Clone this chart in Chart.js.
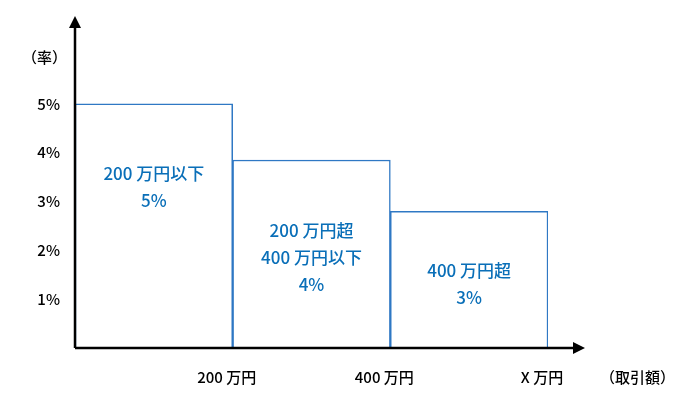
<!DOCTYPE html>
<html><head><meta charset="utf-8">
<script src="https://cdn.jsdelivr.net/npm/chart.js@4"></script>
<style>body{margin:0;background:#fff}#w{width:700px;height:409px}</style>
</head><body><div id="w"><canvas id="c"></canvas></div>
<script>
const categories = ['0-200', '200-400', '400-X'];
const rates = [5, 3.85, 2.8];
const labelCenters = [3.3, 1.85, 1.3];
const boundaryLabels = ['200 万円', '400 万円', 'X 万円'];
const innerLabels = [['200 万円以下', '5%'], ['200 万円超', '400 万円以下', '4%'], ['400 万円超', '3%']];
const yTicks = [1, 2, 3, 4, 5];
const FONT = '"Noto Sans CJK JP", "Noto Sans", sans-serif';

const deco = {
  id: 'deco',
  afterDatasetsDraw(chart) {
    const {ctx, chartArea: a, scales: {x, y}} = chart;
    ctx.save();
    ctx.strokeStyle = '#000'; ctx.fillStyle = '#000'; ctx.lineWidth = 2.5;
    const y0 = y.getPixelForValue(0);
    ctx.beginPath(); ctx.moveTo(a.left, y0); ctx.lineTo(a.left, a.top + 4); ctx.stroke();
    ctx.beginPath(); ctx.moveTo(a.left - 6, a.top + 12); ctx.lineTo(a.left, a.top); ctx.lineTo(a.left + 6, a.top + 12); ctx.closePath(); ctx.fill();
    const xe = 585;
    ctx.beginPath(); ctx.moveTo(a.left, y0); ctx.lineTo(xe - 4, y0); ctx.stroke();
    ctx.beginPath(); ctx.moveTo(xe - 12, y0 - 6); ctx.lineTo(xe, y0); ctx.lineTo(xe - 12, y0 + 6); ctx.closePath(); ctx.fill();
    ctx.font = '500 15px ' + FONT; ctx.textAlign = 'center'; ctx.textBaseline = 'middle';
    const meta = chart.getDatasetMeta(0);
    meta.data.forEach((bar, i) => {
      const right = bar.x + bar.width / 2;
      ctx.fillText(boundaryLabels[i], right - 6, 377);
    });
    ctx.textAlign = 'left';
    ctx.fillText('（取引額）', 600, 377);
    ctx.fillText('（率）', 22, 57);
    ctx.fillStyle = '#0a6fb8'; ctx.font = '500 17px ' + FONT; ctx.textAlign = 'center';
    meta.data.forEach((bar, i) => {
      const lines = innerLabels[i];
      const mid = y.getPixelForValue(labelCenters[i]);
      const lh = 27;
      lines.forEach((t, j) => ctx.fillText(t, bar.x, mid + (j - (lines.length - 1) / 2) * lh));
    });
    ctx.restore();
  }
};

new Chart(document.getElementById('c'), {
  type: 'bar',
  data: { labels: categories, datasets: [{ data: rates, backgroundColor: '#fff', borderColor: '#2f78c4', borderWidth: 1.5, barPercentage: 1, categoryPercentage: 1 }] },
  options: {
    responsive: true, maintainAspectRatio: false, animation: false,
    layout: { padding: { top: 15, right: 152, left: 0, bottom: 0 } },
    plugins: { legend: { display: false }, tooltip: { enabled: false } },
    scales: {
      x: { grid: { display: false }, border: { display: false }, ticks: { display: false },
           afterFit(s) { s.height = 61; } },
      y: { min: 0, max: 6.8, grid: { display: false }, border: { display: false },
           afterBuildTicks(s) { s.ticks = yTicks.map(v => ({ value: v })); },
           ticks: { padding: 7, color: '#000', font: { size: 15, weight: '500', family: FONT }, callback: v => v + '%' },
           afterFit(s) { s.width = 75; } }
    }
  },
  plugins: [deco]
});
</script></body></html>
